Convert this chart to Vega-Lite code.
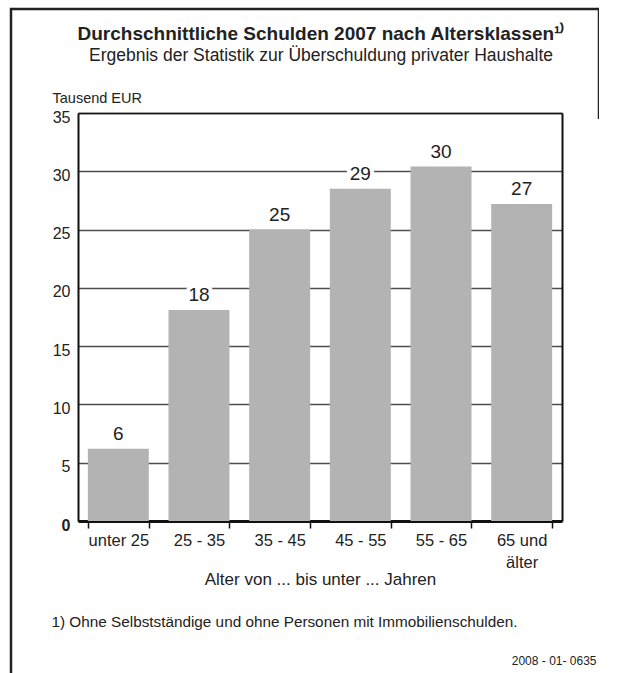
{
  "$schema": "https://vega.github.io/schema/vega-lite/v6.json",
  "width": 588,
  "height": 680,
  "padding": {"left": 11, "top": 9, "right": 0, "bottom": 0},
  "background": "white",
  "title": {
    "text": "Durchschnittliche Schulden 2007 nach Altersklassen¹⁾",
    "subtitle": "Ergebnis der Statistik zur Überschuldung privater Haushalte",
    "anchor": "middle",
    "frame": "group",
    "orient": "top",
    "offset": -55,
    "dx": 16,
    "fontSize": 19,
    "fontWeight": "bold",
    "color": "#222222",
    "subtitleFontSize": 17.5,
    "subtitleColor": "#222222",
    "subtitlePadding": 3
  },
  "data": {
    "values": [
      {"age": "unter 25", "value": 6.2, "label": "6"},
      {"age": "25 - 35", "value": 18.1, "label": "18"},
      {"age": "35 - 45", "value": 25.0, "label": "25"},
      {"age": "45 - 55", "value": 28.5, "label": "29"},
      {"age": "55 - 65", "value": 30.4, "label": "30"},
      {"age": "65 und älter", "value": 27.2, "label": "27"}
    ]
  },
  "layer": [
    {
      "mark": {"type": "bar", "color": "#b3b3b3"},
      "encoding": {
        "x": {
          "field": "age", "type": "nominal", "sort": null,
          "scale": {"range": [67, 551], "paddingInner": 0.244, "paddingOuter": 0.122},
          "axis": {
            "orient": "bottom", "offset": -168, "tickBand": "extent",
            "ticks": true, "tickSize": 7, "tickColor": "#111111", "tickWidth": 1.5,
            "domain": true, "domainColor": "#111111", "domainWidth": 3,
            "labelAngle": 0, "labelFontSize": 16.5, "labelColor": "#222222", "labelPadding": 4,
            "labelLineHeight": 22,
            "labelExpr": "datum.label == '65 und älter' ? ['65 und', 'älter'] : datum.label",
            "grid": false,
            "title": "Alter von ... bis unter ... Jahren",
            "titleFontSize": 17, "titleFontWeight": "normal", "titleColor": "#222222",
            "titleY": 63, "titleBaseline": "alphabetic"
          }
        },
        "y": {
          "field": "value", "type": "quantitative",
          "scale": {"domain": [0, 35], "range": [512, 104], "nice": false},
          "axis": {
            "orient": "left", "offset": -67,
            "values": [0, 5, 10, 15, 20, 25, 30, 35],
            "ticks": false, "tickSize": 0, "labelPadding": 8,
            "labelFontSize": 16, "labelColor": "#222222",
            "labelBaseline": "middle", "labelOffset": 4,
            "labelFontWeight": {"condition": {"test": "datum.value === 0", "value": "bold"}, "value": "normal"},
            "domain": true, "domainColor": "#111111", "domainWidth": 2,
            "grid": true, "gridColor": "#4d4d4d", "gridWidth": 1.5,
            "title": "Tausend EUR", "titleAngle": 0, "titleAlign": "left",
            "titleBaseline": "alphabetic", "titleX": -26, "titleY": 93,
            "titleFontSize": 14.5, "titleFontWeight": "normal", "titleColor": "#222222"
          }
        }
      }
    },
    {
      "mark": {"type": "text", "stroke": "white", "strokeWidth": 8, "strokeJoin": "round", "fill": "white", "dy": -9, "baseline": "alphabetic", "align": "center", "fontSize": 19},
      "encoding": {
        "x": {
          "field": "age", "type": "nominal", "sort": null,
          "axis": {
            "orient": "top", "offset": -104, "labels": false, "ticks": false, "grid": false,
            "domain": true, "domainColor": "#111111", "domainWidth": 1.5,
            "title": "2008 - 01- 0635", "titleX": 585, "titleY": 551,
            "titleAlign": "right", "titleBaseline": "alphabetic",
            "titleFontSize": 12, "titleFontWeight": "normal", "titleColor": "#222222"
          }
        },
        "y": {
          "field": "value", "type": "quantitative",
          "axis": {
            "orient": "right", "offset": -37, "labels": false, "ticks": false, "grid": false,
            "domain": true, "domainColor": "#111111", "domainWidth": 2,
            "title": "1) Ohne Selbstständige und ohne Personen mit Immobilienschulden.",
            "titleAngle": 0, "titleAlign": "left", "titleBaseline": "alphabetic",
            "titleX": -511, "titleY": 617,
            "titleFontSize": 15.3, "titleFontWeight": "normal", "titleColor": "#222222"
          }
        },
        "text": {"field": "label"}
      }
    },
    {
      "mark": {"type": "text", "fill": "#222222", "dy": -9, "baseline": "alphabetic", "align": "center", "fontSize": 19},
      "encoding": {
        "x": {"field": "age", "type": "nominal", "sort": null, "axis": null},
        "y": {"field": "value", "type": "quantitative", "axis": null},
        "text": {"field": "label"}
      }
    }
  ],
  "resolve": {"axis": {"x": "independent", "y": "independent"}},
  "config": {
    "font": "Liberation Sans",
    "view": {"stroke": "#222222", "strokeWidth": 2.5, "strokeDash": [698, 1158, 680]}
  }
}
